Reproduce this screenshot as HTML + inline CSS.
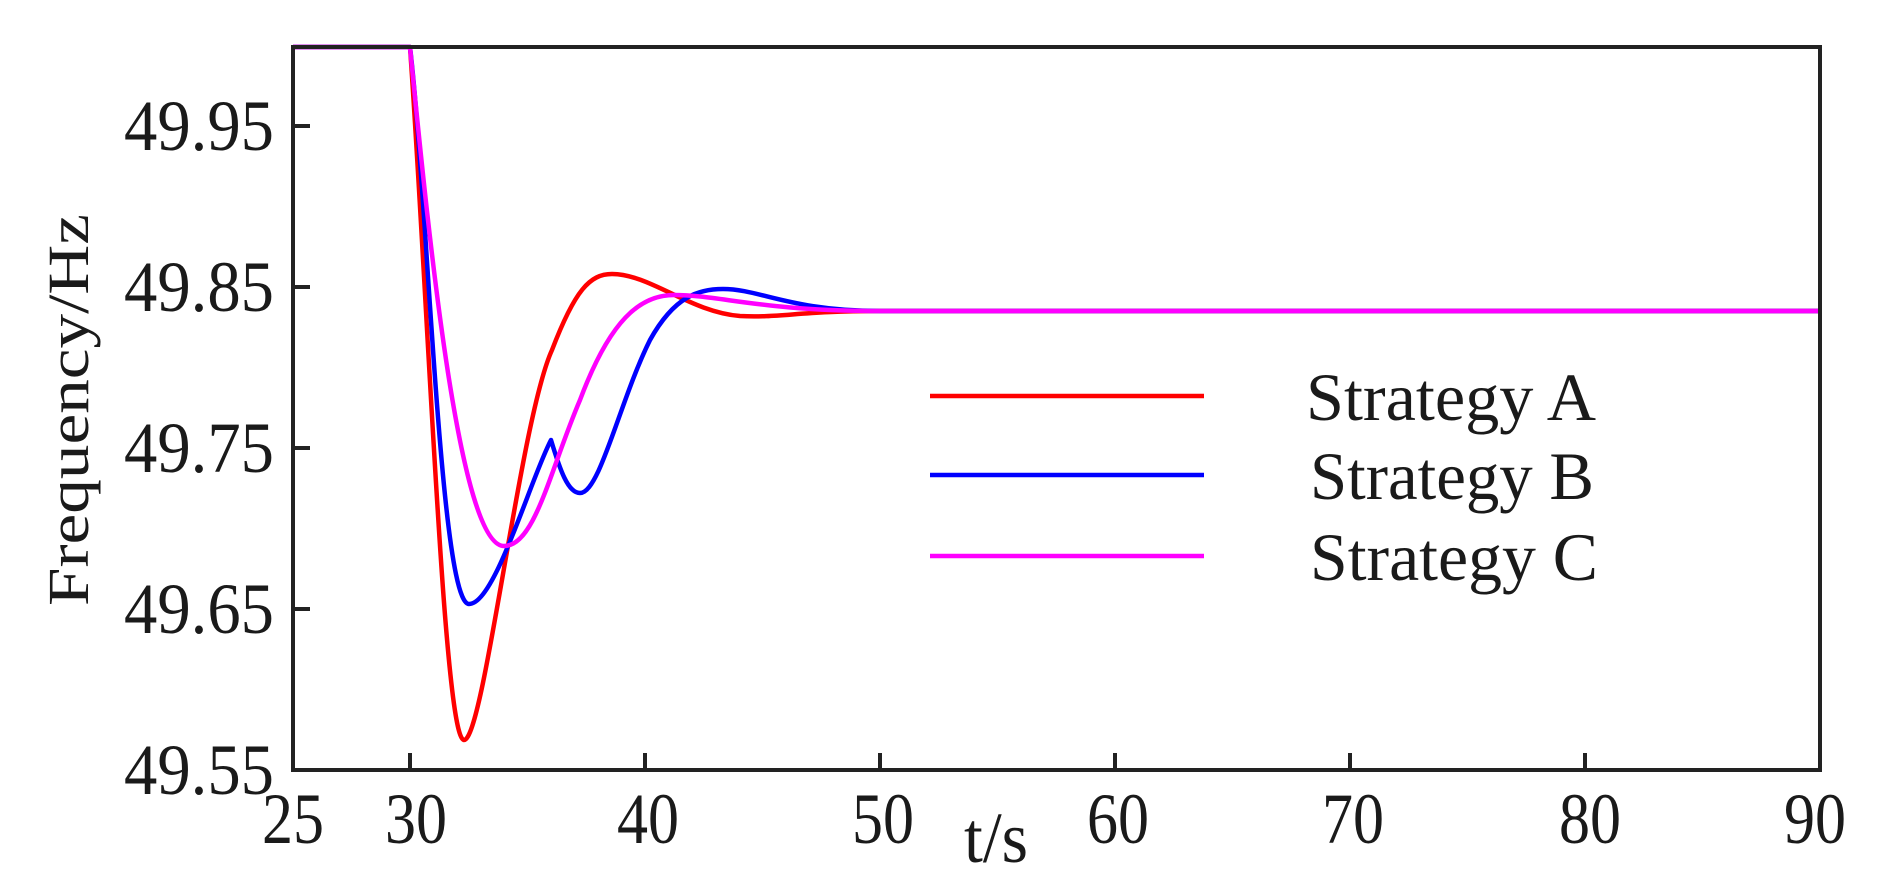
<!DOCTYPE html>
<html><head><meta charset="utf-8"><style>
html,body{margin:0;padding:0;background:#fff;}
svg{display:block;}
text{font-family:"Liberation Serif",serif;fill:#1a1a1a;}
</style></head><body>
<svg width="1881" height="888" viewBox="0 0 1881 888" xmlns="http://www.w3.org/2000/svg">
<rect width="1881" height="888" fill="#fff"/>
<g fill="none" stroke-width="4.5" stroke-linejoin="round">
<path stroke="#ff0000" d="M293,47 L410,47 C428,300 444,740 464,740 C484,740 520,420 552,350 C575,290 590,274 612,274 C650,274 690,312 740,316 C780,318 800,311 880,311 L1820,311"/>
<path stroke="#0000ff" d="M293,47 L410,47 C428,200 440,604 469,604 C495,604 530,480 551,440 C560,470 568,493 580,493 C600,493 620,400 650,340 C675,295 700,289 723,289 C760,289 790,311 880,311 L1820,311"/>
<path stroke="#ff00ff" d="M293,47 L410,47 C430,250 460,546 504,546 C535,546 550,470 580,400 C610,320 640,295 674,295 C720,295 760,311 880,311 L1820,311"/>
</g>
<rect x="293" y="47" width="1527" height="723" fill="none" stroke="#222" stroke-width="4"/>
<g stroke="#222" stroke-width="4">
<line x1="293" y1="126" x2="310" y2="126"/>
<line x1="293" y1="287" x2="310" y2="287"/>
<line x1="293" y1="448" x2="310" y2="448"/>
<line x1="293" y1="609" x2="310" y2="609"/>
<line x1="410" y1="770" x2="410" y2="753"/>
<line x1="645" y1="770" x2="645" y2="753"/>
<line x1="880" y1="770" x2="880" y2="753"/>
<line x1="1115" y1="770" x2="1115" y2="753"/>
<line x1="1350" y1="770" x2="1350" y2="753"/>
<line x1="1585" y1="770" x2="1585" y2="753"/>
</g>
<g font-size="72" text-anchor="end">
<text x="274" y="150" textLength="150" lengthAdjust="spacingAndGlyphs">49.95</text>
<text x="274" y="311" textLength="150" lengthAdjust="spacingAndGlyphs">49.85</text>
<text x="274" y="472" textLength="150" lengthAdjust="spacingAndGlyphs">49.75</text>
<text x="274" y="633" textLength="150" lengthAdjust="spacingAndGlyphs">49.65</text>
<text x="274" y="794" textLength="150" lengthAdjust="spacingAndGlyphs">49.55</text>
</g>
<g font-size="72" text-anchor="middle">
<text x="293" y="843" textLength="62" lengthAdjust="spacingAndGlyphs">25</text>
<text x="416" y="843" textLength="62" lengthAdjust="spacingAndGlyphs">30</text>
<text x="648" y="843" textLength="62" lengthAdjust="spacingAndGlyphs">40</text>
<text x="883" y="843" textLength="62" lengthAdjust="spacingAndGlyphs">50</text>
<text x="1118" y="843" textLength="62" lengthAdjust="spacingAndGlyphs">60</text>
<text x="1353" y="843" textLength="62" lengthAdjust="spacingAndGlyphs">70</text>
<text x="1590" y="843" textLength="62" lengthAdjust="spacingAndGlyphs">80</text>
<text x="1815" y="843" textLength="62" lengthAdjust="spacingAndGlyphs">90</text>
</g>
<text x="964" y="862" font-size="72" textLength="64" lengthAdjust="spacingAndGlyphs">t/s</text>
<text transform="translate(88,410) rotate(-90)" font-size="58" text-anchor="middle" textLength="392" lengthAdjust="spacingAndGlyphs">Frequency/Hz</text>
<g stroke-width="4.5">
<line x1="930" y1="396" x2="1204" y2="396" stroke="#ff0000"/>
<line x1="930" y1="475" x2="1204" y2="475" stroke="#0000ff"/>
<line x1="930" y1="556" x2="1204" y2="556" stroke="#ff00ff"/>
</g>
<g font-size="68">
<text x="1306" y="420" textLength="290" lengthAdjust="spacingAndGlyphs">Strategy A</text>
<text x="1310" y="499" textLength="284" lengthAdjust="spacingAndGlyphs">Strategy B</text>
<text x="1310" y="580" textLength="288" lengthAdjust="spacingAndGlyphs">Strategy C</text>
</g>
</svg>
</body></html>
